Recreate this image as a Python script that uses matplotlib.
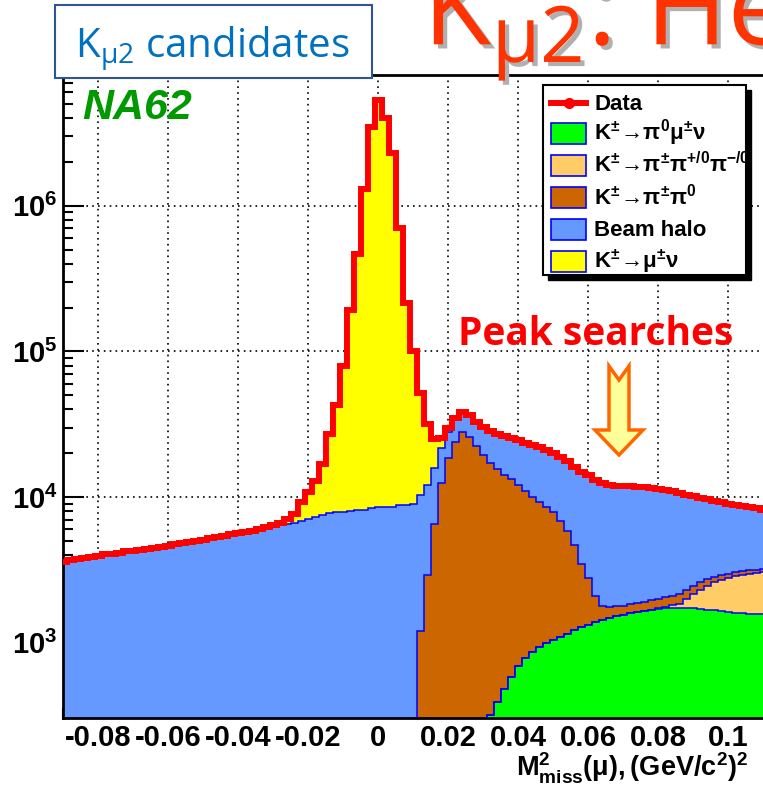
import numpy as np
import matplotlib.pyplot as plt
import matplotlib.patheffects as pe
from matplotlib.patches import Rectangle, Polygon
from matplotlib.lines import Line2D
from matplotlib.ticker import MultipleLocator, FixedLocator, FuncFormatter

plt.rcParams['font.family'] = ['Liberation Sans', 'DejaVu Sans']
plt.rcParams['mathtext.fontset'] = 'custom'
plt.rcParams['mathtext.rm'] = 'Liberation Sans:bold'
plt.rcParams['mathtext.it'] = 'Liberation Sans:bold'
plt.rcParams['mathtext.bf'] = 'Liberation Sans:bold'
plt.rcParams['mathtext.sf'] = 'Open Sans'

# binning: 0.002 wide bins, centres from -0.090 to 0.110 (GeV/c^2)^2
bin_w = 0.002
centers = np.round(np.arange(-0.09, 0.11 + bin_w / 2, bin_w), 3)
edges = np.append(centers - bin_w / 2, centers[-1] + bin_w / 2)

# beam halo, every bin
halo = [3600, 3700, 3750, 3800, 3900, 3950, 4050, 4100, 4150, 4250,
        4300, 4350, 4400, 4500, 4550, 4650, 4750, 4850, 4950, 5000,
        5100, 5250, 5350, 5450, 5550, 5650, 5750, 5900, 6000, 6150,
        6250, 6400, 6500, 6650, 6900, 7100, 7350, 7600, 7800, 7900,
        7950, 8000, 8200, 8200, 8400, 8500, 8600, 8550, 8800, 8900,
        9000, 9100, 9200, 9300, 9400, 9500, 9600, 9700, 9900, 10300,
        10800, 11300, 11800, 12000, 12200, 12500, 12700, 12900, 12800, 12600,
        12300, 12000, 11700, 11500, 11400, 11300, 11000, 10700, 10400, 10200,
        10100, 10000, 9900, 9750, 9600, 9400, 9200, 9000, 8600, 8100,
        7700, 7300, 6900, 6600, 6300, 6000, 5800, 5600, 5400, 5200,
        5000]

# K -> mu nu, from -0.032
kmu2_start = -0.032
kmu2 = [80, 150, 300, 600, 1050, 2400, 3700, 5650, 9400, 19200,
        35000, 72000, 185000, 462000, 1290000, 3440000, 5290000, 3990000, 2290000, 691000,
        206000, 91000, 41700, 19900, 9200, 3600, 2000, 1500, 1000, 500,
        200]

# K -> pi pi0, from 0.012
k2pi_start = 0.012
k2pi = [1200, 2900, 6500, 12500, 18500, 24000, 28000, 26000, 22500, 19500,
        16900, 15100, 13800, 12700, 11500, 10200, 9100, 8300, 7500, 6850,
        5800, 4750, 3500, 2200, 1470, 710, 360, 280, 250, 240,
        250, 250, 260, 280, 270, 280, 290, 300, 310, 300,
        290, 270, 250, 230, 210, 190, 170, 150, 140, 130]

# K -> pi0 mu nu, from 0.032
km3_start = 0.032
km3 = [320, 390, 480, 580, 690, 790, 870, 940, 1000, 1050,
       1090, 1150, 1220, 1280, 1330, 1390, 1440, 1480, 1530, 1560,
       1600, 1630, 1660, 1690, 1710, 1730, 1740, 1740, 1740, 1730,
       1710, 1690, 1670, 1650, 1630, 1610, 1600, 1590, 1580, 1580]

# K -> 3 pi, from 0.080
k3pi_start = 0.080
k3pi = [20, 40, 70, 120, 250, 420, 600, 780, 930, 1050,
        1150, 1250, 1330, 1400, 1450, 1500]


def full(start, vals):
    out = np.zeros(len(centers))
    i0 = int(round((start - centers[0]) / bin_w))
    out[i0:i0 + len(vals)] = vals
    return out


# stack order, bottom to top
stack = [
    (full(km3_start, km3), '#00ff00', r'$\mathbf{K^{\pm}\!\rightarrow\!π^{0}μ^{\pm}ν}$'),
    (full(k3pi_start, k3pi), '#ffcc66', r'$\mathbf{K^{\pm}\!\rightarrow\!π^{\pm}π^{+/0}π^{-/0}}$'),
    (full(k2pi_start, k2pi), '#cc6600', r'$\mathbf{K^{\pm}\!\rightarrow\!π^{\pm}π^{0}}$'),
    (np.array(halo, dtype=float), '#6699ff', 'Beam halo'),
    (full(kmu2_start, kmu2), '#ffff00', r'$\mathbf{K^{\pm}\!\rightarrow\!μ^{\pm}ν}$'),
]

W, H = 763, 785
fig = plt.figure(figsize=(W / 100, H / 100), dpi=100)


def fx(px):
    return px / W


def fy(py):
    return 1 - py / H


ax = fig.add_axes([fx(63), fy(718), 735 / W, (718 - 75) / H])
ax.set_xlim(-0.09, 0.12)
ax.set_yscale('log')
ax.set_ylim(305, 7.9e6)

# stacked histograms
floor = 1.0
bottom = np.zeros(len(centers))
tops = []
for vals, col, _ in stack:
    top = bottom + vals
    ax.stairs(np.maximum(top, floor), edges, baseline=np.maximum(bottom, floor),
              fill=True, color=col, lw=0, zorder=2)
    tops.append(top)
    bottom = top
for top in tops:
    ax.stairs(np.maximum(top, floor), edges, baseline=None, color='#0000ff', lw=1.1, zorder=3)

# data on top of the stack
data = bottom
ax.stairs(data, edges, baseline=None, color='red', lw=4.3, zorder=4)

# axes styling
xmajor = np.round(np.arange(-0.08, 0.121, 0.02), 2)
ymajor = [1e3, 1e4, 1e5, 1e6, 1e7]
ax.xaxis.set_major_locator(FixedLocator(xmajor))
ax.xaxis.set_minor_locator(MultipleLocator(0.005))
ax.xaxis.set_major_formatter(FuncFormatter(lambda v, p: '%g' % v))
ax.yaxis.set_major_locator(FixedLocator(ymajor))
ax.yaxis.set_major_formatter(FuncFormatter(lambda v, p: r'$10^{%d}$' % round(np.log10(v))))
ax.tick_params(which='both', direction='in', top=False, right=False, width=1.5, colors='black')
ax.tick_params(which='major', length=15, labelsize=21)
ax.tick_params(axis='x', which='major', pad=4)
ax.tick_params(axis='y', which='major', pad=4)
ax.tick_params(which='minor', length=7.5)
for lab in ax.get_xticklabels():
    lab.set_fontweight('bold')
for sp in ax.spines.values():
    sp.set_linewidth(2)

# dotted grid under the histograms
for xv in xmajor:
    ax.axvline(xv, color='black', lw=1.2, ls=(0, (1, 2.5)), zorder=1)
for yv in ymajor:
    ax.axhline(yv, color='black', lw=1.2, ls=(0, (1, 2.5)), zorder=1)

# axis title
fig.text(fx(516), fy(776), r'$\mathbf{M^{2}_{miss}(μ), (GeV/c^{2})^{2}}$', fontsize=19.5, va='baseline')

# experiment tag
fig.text(fx(82), fy(119), 'NA62', fontsize=31, fontweight='bold', style='italic',
         color='#009900', va='baseline')

# legend box with shadow
lx0, ly0, lx1, ly1 = 543, 85, 746, 275
fig.patches.append(Rectangle((fx(lx0 + 5), fy(ly1 + 5)), (lx1 - lx0) / W, (ly1 - ly0) / H,
                             transform=fig.transFigure, color='black', zorder=10))
fig.patches.append(Rectangle((fx(lx0), fy(ly1)), (lx1 - lx0) / W, (ly1 - ly0) / H,
                             transform=fig.transFigure, facecolor='white', edgecolor='black',
                             lw=1.5, zorder=11))
rows = [103, 133, 165, 197, 229, 261]
fig.lines.append(Line2D([fx(551), fx(586)], [fy(rows[0])] * 2, transform=fig.transFigure,
                        color='red', lw=4.3, zorder=12))
fig.lines.append(Line2D([fx(568.5)], [fy(rows[0])], transform=fig.transFigure, color='red',
                        marker='o', markersize=7, zorder=12))
fig.text(fx(594), fy(rows[0] + 7), 'Data', fontsize=16, fontweight='bold', va='baseline', zorder=12)
for (vals, col, lab), yr in zip(stack, rows[1:]):
    fig.patches.append(Rectangle((fx(551), fy(yr + 10.5)), 35 / W, 21 / H, transform=fig.transFigure,
                                 facecolor=col, edgecolor='#0000ff', lw=1.2, zorder=12))
    fig.text(fx(594), fy(yr + 7), lab, fontsize=16, fontweight='bold', va='baseline', zorder=12)

# peak search annotation
fig.text(fx(458), fy(345), 'Peak searches', fontfamily='Open Sans', fontweight='bold',
         fontsize=28, color='red', va='baseline')
arrow = [(609, 366), (619, 380), (629, 366), (629, 430), (643, 430), (619, 455), (595, 430), (609, 430)]
fig.patches.append(Polygon([(fx(a), fy(b)) for a, b in arrow], closed=True, transform=fig.transFigure,
                           facecolor='#ffff99', edgecolor='#ff6600', lw=2.5, zorder=12))

# slide heading (with grey drop shadow) and label box
fig.text(fx(423), fy(45), r'K$_{\mathsf{μ2}}$: He', fontfamily='Open Sans', fontsize=80,
         color='#ff3300', va='baseline', zorder=13,
         path_effects=[pe.SimplePatchShadow(offset=(3, -3), shadow_rgbFace='#b0b0b0', alpha=1),
                       pe.Normal()])
fig.patches.append(Rectangle((fx(55), fy(78)), (372 - 55) / W, (78 - 5) / H, transform=fig.transFigure,
                             facecolor='white', edgecolor='#2f5597', lw=1.5, zorder=14))
fig.text(fx(75), fy(57), r'K$_{\mathsf{μ2}}$ candidates', fontfamily='Open Sans', fontsize=29,
         color='#0070c0', va='baseline', zorder=15)

fig.savefig('out.png', dpi=100)
